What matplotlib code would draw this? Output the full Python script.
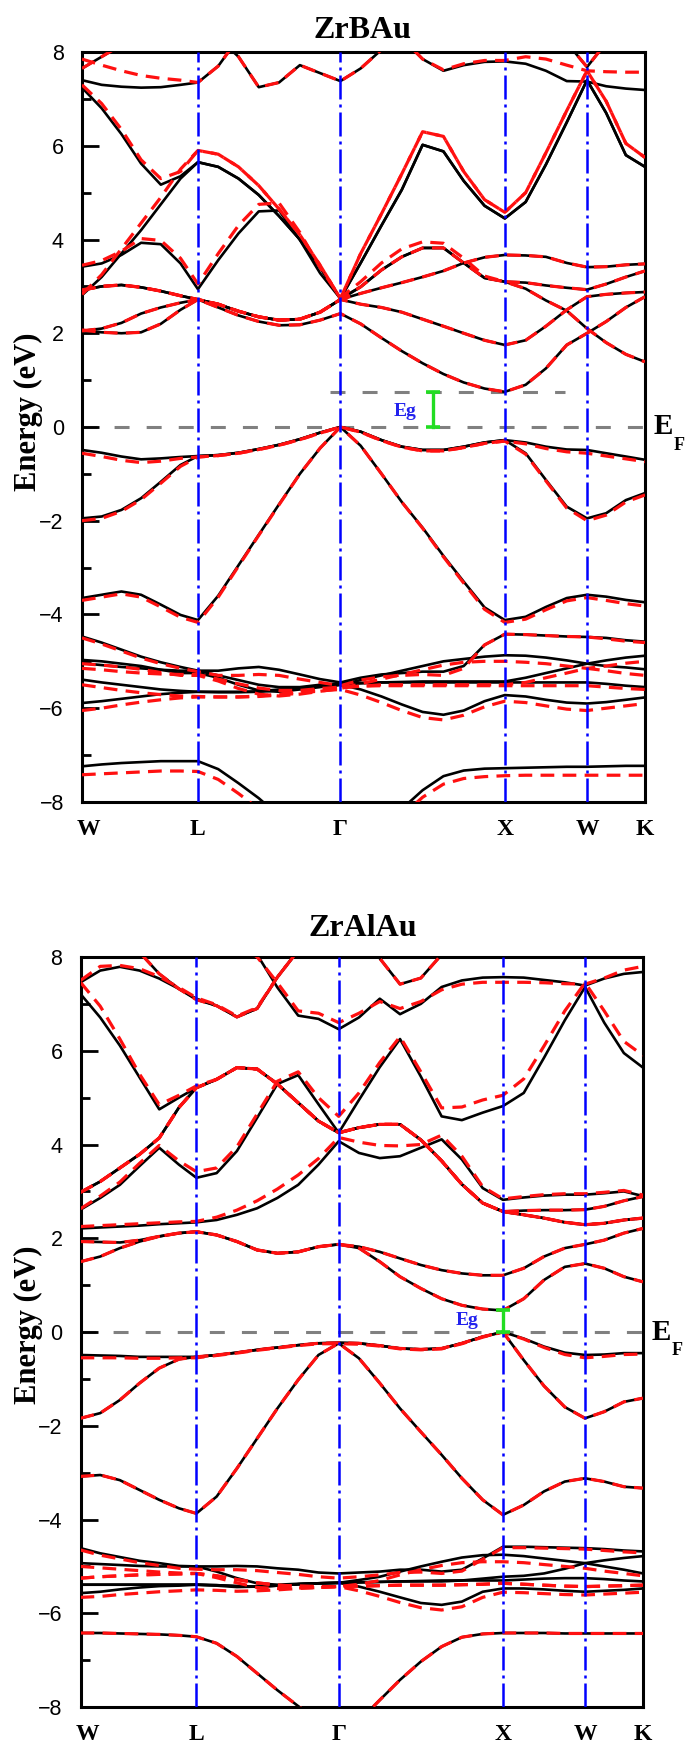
import numpy as np
import matplotlib.pyplot as plt
from matplotlib import transforms

# high symmetry path W-L-G-X-W-K, as fraction of the total path length
K_TICKS = [0.0, 0.206, 0.459, 0.751, 0.897, 1.0]
K_LABELS = ['W', 'L', 'Γ', 'X', 'W', 'K']

# k-points the bands are sampled on (7 + 7 + 8 + 4 + 3 points per segment)
K_GRID = [0.0, 0.035, 0.07, 0.105, 0.14, 0.175, 0.206,
          0.242, 0.278, 0.314, 0.350, 0.387, 0.423, 0.459,
          0.495, 0.532, 0.568, 0.605, 0.642, 0.678, 0.715, 0.751,
          0.788, 0.824, 0.861, 0.897,
          0.931, 0.966, 1.0]

# ---------------- ZrBAu bands (eV), solid = black, _R = red dashed ----------------
B_V1 = [-0.49, -0.55, -0.63, -0.69, -0.67, -0.64, -0.62,
        -0.60, -0.55, -0.47, -0.38, -0.26, -0.12, 0.00,
        -0.10, -0.28, -0.42, -0.49, -0.49, -0.42, -0.33, -0.28,
        -0.33, -0.42, -0.48, -0.49,
        -0.56, -0.63, -0.70]
B_V1_R = [-0.56, -0.63, -0.71, -0.76, -0.73, -0.67, -0.64,
          -0.61, -0.56, -0.48, -0.39, -0.27, -0.13, 0.00,
          -0.11, -0.29, -0.43, -0.51, -0.51, -0.44, -0.35, -0.30,
          -0.36, -0.46, -0.53, -0.56,
          -0.62, -0.68, -0.74]
B_V2 = [-1.95, -1.91, -1.77, -1.52, -1.17, -0.81, -0.62,
        -0.60, -0.55, -0.47, -0.38, -0.26, -0.12, 0.00,
        -0.10, -0.28, -0.42, -0.49, -0.49, -0.42, -0.33, -0.28,
        -0.56, -1.13, -1.70, -1.95,
        -1.84, -1.56, -1.41]
B_V2_R = [-2.00, -1.95, -1.80, -1.55, -1.20, -0.84, -0.64,
          -0.61, -0.56, -0.48, -0.39, -0.27, -0.13, 0.00,
          -0.11, -0.29, -0.43, -0.51, -0.51, -0.44, -0.35, -0.30,
          -0.58, -1.15, -1.73, -2.00,
          -1.88, -1.60, -1.45]
B_V3 = [-3.65, -3.58, -3.51, -3.58, -3.79, -4.01, -4.12,
        -3.60, -2.95, -2.30, -1.65, -1.00, -0.45, 0.00,
        -0.40, -1.00, -1.60, -2.15, -2.75, -3.30, -3.85, -4.12,
        -4.05, -3.84, -3.65, -3.58,
        -3.62, -3.69, -3.74]
B_V3_R = [-3.70, -3.63, -3.56, -3.63, -3.84, -4.06, -4.17,
          -3.63, -2.97, -2.31, -1.66, -1.00, -0.45, 0.00,
          -0.40, -1.00, -1.60, -2.16, -2.77, -3.33, -3.89, -4.17,
          -4.10, -3.90, -3.71, -3.64,
          -3.70, -3.77, -3.82]
B_S1 = [-4.47, -4.60, -4.75, -4.90, -5.02, -5.12, -5.20,
        -5.20, -5.15, -5.12, -5.18, -5.28, -5.38, -5.45,
        -5.35, -5.28, -5.25, -5.22, -5.22, -5.10, -4.65, -4.42,
        -4.43, -4.45, -4.47, -4.48,
        -4.50, -4.55, -4.58]
B_S1_R = [-4.50, -4.63, -4.78, -4.93, -5.05, -5.15, -5.22,
          -5.30, -5.30, -5.28, -5.30, -5.38, -5.45, -5.52,
          -5.40, -5.33, -5.30, -5.28, -5.30, -5.15, -4.65, -4.42,
          -4.43, -4.45, -4.47, -4.48,
          -4.52, -4.57, -4.60]
B_S2 = [-4.97, -5.00, -5.05, -5.10, -5.18, -5.25, -5.25,
        -5.35, -5.50, -5.62, -5.65, -5.60, -5.55, -5.50,
        -5.40, -5.30, -5.20, -5.10, -5.00, -4.95, -4.90, -4.87,
        -4.88, -4.92, -4.98, -5.05,
        -5.10, -5.13, -5.17]
B_S2_R = [-5.05, -5.08, -5.12, -5.17, -5.24, -5.30, -5.30,
          -5.42, -5.58, -5.70, -5.74, -5.70, -5.64, -5.58,
          -5.48, -5.38, -5.28, -5.18, -5.08, -5.02, -5.00, -5.00,
          -5.02, -5.05, -5.10, -5.15,
          -5.10, -5.04, -5.00]
B_S3 = [-5.39, -5.45, -5.50, -5.55, -5.60, -5.63, -5.65,
        -5.66, -5.66, -5.65, -5.62, -5.58, -5.53, -5.50,
        -5.47, -5.45, -5.44, -5.43, -5.43, -5.43, -5.43, -5.43,
        -5.35, -5.25, -5.15, -5.05,
        -4.98, -4.92, -4.88]
B_S3_R = [-5.50, -5.56, -5.62, -5.67, -5.71, -5.74, -5.75,
          -5.76, -5.76, -5.74, -5.70, -5.65, -5.60, -5.57,
          -5.53, -5.50, -5.50, -5.50, -5.50, -5.50, -5.50, -5.50,
          -5.45, -5.35, -5.25, -5.15,
          -5.20, -5.26, -5.30]
B_S4 = [-5.89, -5.85, -5.80, -5.75, -5.70, -5.67, -5.65,
        -5.65, -5.65, -5.64, -5.60, -5.57, -5.53, -5.50,
        -5.60, -5.75, -5.92, -6.08, -6.14, -6.05, -5.85, -5.72,
        -5.75, -5.82, -5.88, -5.90,
        -5.87, -5.82, -5.77]
B_S4_R = [-6.05, -6.00, -5.93, -5.87, -5.82, -5.78, -5.76,
          -5.76, -5.76, -5.75, -5.72, -5.68, -5.63, -5.60,
          -5.72, -5.88, -6.05, -6.20, -6.25, -6.15, -5.97, -5.85,
          -5.88, -5.95, -6.02, -6.05,
          -6.00, -5.95, -5.90]
B_S5 = [-5.04, -5.08, -5.12, -5.15, -5.18, -5.20, -5.20,
        -5.30, -5.40, -5.50, -5.55, -5.55, -5.50, -5.47,
        -5.46, -5.45, -5.45, -5.45, -5.45, -5.45, -5.45, -5.45,
        -5.45, -5.45, -5.45, -5.45,
        -5.48, -5.52, -5.55]
B_S5_R = [-5.15, -5.18, -5.22, -5.25, -5.27, -5.28, -5.28,
          -5.38, -5.48, -5.57, -5.62, -5.62, -5.58, -5.55,
          -5.53, -5.52, -5.52, -5.52, -5.52, -5.52, -5.52, -5.52,
          -5.52, -5.52, -5.52, -5.52,
          -5.55, -5.58, -5.60]
B_D = [-7.24, -7.20, -7.17, -7.15, -7.13, -7.13, -7.13,
       -7.30, -7.60, -7.92, -8.30, -8.60, -8.80, -9.00,
       -8.80, -8.50, -8.15, -7.75, -7.45, -7.33, -7.29, -7.28,
       -7.27, -7.26, -7.25, -7.25,
       -7.24, -7.23, -7.23]
B_D_R = [-7.42, -7.40, -7.38, -7.36, -7.34, -7.34, -7.35,
         -7.52, -7.82, -8.15, -8.50, -8.80, -9.00, -9.10,
         -9.00, -8.75, -8.30, -7.90, -7.62, -7.50, -7.46, -7.44,
         -7.43, -7.43, -7.43, -7.43,
         -7.43, -7.43, -7.43]
B_C1 = [2.07, 2.02, 2.00, 2.02, 2.20, 2.50, 2.72,
        2.55, 2.38, 2.25, 2.17, 2.18, 2.28, 2.42,
        2.20, 1.90, 1.62, 1.36, 1.13, 0.95, 0.82, 0.75,
        0.90, 1.25, 1.75, 2.00,
        2.25, 2.55, 2.78]
B_C2 = [2.05, 2.10, 2.22, 2.42, 2.55, 2.65, 2.72,
        2.62, 2.47, 2.35, 2.28, 2.30, 2.45, 2.72,
        2.62, 2.55, 2.45, 2.30, 2.15, 2.00, 1.85, 1.75,
        1.85, 2.15, 2.50, 2.78,
        2.83, 2.86, 2.88]
B_C3 = [2.92, 3.00, 3.03, 2.98, 2.90, 2.80, 2.72,
        2.62, 2.47, 2.35, 2.28, 2.30, 2.45, 2.72,
        2.85, 2.97, 3.08, 3.20, 3.33, 3.50, 3.62, 3.67,
        3.66, 3.63, 3.50, 3.41,
        3.42, 3.46, 3.48]
B_C4 = [3.42, 3.49, 3.67, 3.93, 3.90, 3.49, 2.94,
        3.56, 4.13, 4.60, 4.62, 3.99, 3.28, 2.74,
        2.99, 3.35, 3.63, 3.82, 3.82, 3.50, 3.18, 3.10,
        3.08, 3.02, 2.97, 2.93,
        3.05, 3.20, 3.33]
B_C4_R = [3.45, 3.55, 3.75, 4.02, 3.98, 3.60, 3.05,
          3.70, 4.30, 4.75, 4.78, 4.15, 3.40, 2.76,
          3.10, 3.50, 3.80, 3.95, 3.92, 3.60, 3.22, 3.10,
          3.08, 3.02, 2.97, 2.93,
          3.05, 3.20, 3.33]
B_C5 = [2.92, 3.00, 3.03, 2.98, 2.90, 2.80, 2.72,
        2.62, 2.47, 2.35, 2.28, 2.30, 2.45, 2.72,
        2.99, 3.35, 3.63, 3.82, 3.82, 3.50, 3.18, 3.10,
        2.95, 2.70, 2.48, 2.10,
        1.80, 1.55, 1.39]
B_C6 = [2.81, 3.20, 3.70, 4.20, 4.75, 5.30, 5.65,
        5.55, 5.30, 4.95, 4.50, 4.00, 3.40, 2.74,
        3.50, 4.30, 5.06, 6.02, 5.88, 5.25, 4.72, 4.45,
        4.80, 5.60, 6.50, 7.40,
        6.70, 5.80, 5.55]
B_C6_R = [2.83, 3.25, 3.80, 4.35, 4.90, 5.50, 5.90,
          5.82, 5.55, 5.15, 4.65, 4.10, 3.45, 2.74,
          3.70, 4.55, 5.40, 6.30, 6.20, 5.45, 4.85, 4.58,
          5.00, 5.85, 6.75, 7.60,
          6.95, 6.05, 5.75]
B_C7 = [7.24, 6.80, 6.25, 5.62, 5.17, 5.35, 5.65,
        5.55, 5.30, 4.95, 4.50, 4.00, 3.40, 2.74,
        3.50, 4.30, 5.06, 6.02, 5.88, 5.25, 4.72, 4.45,
        4.80, 5.60, 6.50, 7.40,
        6.70, 5.80, 5.55]
B_C7_R = [7.30, 6.90, 6.35, 5.70, 5.30, 5.45, 5.90,
          5.82, 5.55, 5.15, 4.65, 4.10, 3.45, 2.74,
          3.70, 4.55, 5.40, 6.30, 6.20, 5.45, 4.85, 4.58,
          5.00, 5.85, 6.75, 7.60,
          6.95, 6.05, 5.75]
B_C8 = [7.40, 7.30, 7.26, 7.24, 7.25, 7.30, 7.35,
        7.70, 8.30, 8.70, 8.80, 8.80, 8.80, 8.80,
        8.80, 8.60, 8.30, 7.85, 7.60, 7.72, 7.79, 7.80,
        7.75, 7.60, 7.38, 7.37,
        7.27, 7.22, 7.19]
B_C8_R = [7.85, 7.72, 7.60, 7.50, 7.44, 7.40, 7.35,
          7.70, 8.30, 8.70, 8.80, 8.80, 8.80, 8.80,
          8.80, 8.60, 8.30, 7.85, 7.62, 7.75, 7.82, 7.82,
          7.90, 7.85, 7.72, 7.60,
          7.58, 7.57, 7.57]
B_C9 = [7.65, 7.90, 8.15, 8.40, 8.60, 8.50, 8.40,
        8.30, 7.90, 7.25, 7.35, 7.72, 7.55, 7.38,
        7.65, 8.05, 8.40, 8.60, 8.70, 8.70, 8.70, 8.70,
        8.60, 8.45, 8.20, 7.68,
        8.20, 8.40, 8.60]

# ---------------- ZrAlAu bands (eV) ----------------
A_V1 = [-0.49, -0.50, -0.51, -0.53, -0.53, -0.53, -0.53,
        -0.49, -0.44, -0.38, -0.33, -0.28, -0.24, -0.23,
        -0.24, -0.29, -0.35, -0.37, -0.35, -0.24, -0.10, 0.00,
        -0.14, -0.31, -0.44, -0.49,
        -0.48, -0.45, -0.45]
A_V1_R = [-0.55, -0.55, -0.55, -0.56, -0.56, -0.55, -0.55,
          -0.50, -0.45, -0.39, -0.34, -0.29, -0.25, -0.25,
          -0.26, -0.30, -0.36, -0.38, -0.36, -0.25, -0.11, 0.00,
          -0.15, -0.33, -0.48, -0.55,
          -0.52, -0.48, -0.47]
A_V2 = [-1.84, -1.73, -1.45, -1.09, -0.77, -0.58, -0.53,
        -0.49, -0.44, -0.38, -0.33, -0.28, -0.24, -0.23,
        -0.24, -0.29, -0.35, -0.37, -0.35, -0.24, -0.10, 0.00,
        -0.60, -1.15, -1.60, -1.84,
        -1.70, -1.49, -1.41]
A_V3 = [-3.08, -3.05, -3.16, -3.37, -3.58, -3.76, -3.87,
        -3.51, -2.91, -2.27, -1.63, -1.02, -0.49, -0.24,
        -0.56, -1.09, -1.63, -2.13, -2.62, -3.12, -3.58, -3.90,
        -3.69, -3.40, -3.19, -3.12,
        -3.19, -3.30, -3.33]
A_S1 = [-4.61, -4.72, -4.80, -4.88, -4.93, -4.99, -5.00,
        -5.00, -4.99, -5.00, -5.04, -5.07, -5.13, -5.15,
        -5.13, -5.11, -5.07, -5.07, -5.11, -5.07, -4.83, -4.58,
        -4.58, -4.59, -4.60, -4.61,
        -4.63, -4.66, -4.68]
A_S1_R = [-4.65, -4.76, -4.84, -4.92, -4.98, -5.04, -5.06,
          -5.07, -5.07, -5.09, -5.13, -5.17, -5.22, -5.25,
          -5.22, -5.18, -5.13, -5.12, -5.15, -5.10, -4.85, -4.60,
          -4.60, -4.61, -4.62, -4.63,
          -4.66, -4.69, -4.71]
A_S2 = [-4.93, -4.95, -4.97, -4.99, -5.00, -5.00, -5.00,
        -5.11, -5.25, -5.36, -5.39, -5.37, -5.36, -5.35,
        -5.29, -5.22, -5.11, -5.00, -4.90, -4.81, -4.76, -4.75,
        -4.78, -4.83, -4.88, -4.93,
        -5.00, -5.07, -5.15]
A_S2_R = [-5.00, -5.03, -5.06, -5.09, -5.12, -5.14, -5.15,
          -5.24, -5.35, -5.45, -5.47, -5.46, -5.45, -5.43,
          -5.38, -5.30, -5.18, -5.07, -4.98, -4.92, -4.90, -4.90,
          -4.92, -4.96, -5.00, -5.04,
          -5.10, -5.15, -5.20]
A_S3 = [-5.39, -5.39, -5.39, -5.39, -5.39, -5.39, -5.39,
        -5.40, -5.42, -5.43, -5.41, -5.38, -5.36, -5.35,
        -5.34, -5.33, -5.32, -5.32, -5.32, -5.30, -5.26, -5.22,
        -5.20, -5.15, -5.05, -4.93,
        -4.87, -4.82, -4.78]
A_S3_R = [-5.25, -5.22, -5.20, -5.18, -5.17, -5.16, -5.15,
          -5.20, -5.28, -5.35, -5.40, -5.42, -5.43, -5.43,
          -5.42, -5.41, -5.40, -5.40, -5.40, -5.39, -5.38, -5.36,
          -5.38, -5.40, -5.42, -5.43,
          -5.42, -5.41, -5.40]
A_S4 = [-5.57, -5.54, -5.49, -5.45, -5.42, -5.41, -5.39,
        -5.41, -5.44, -5.43, -5.41, -5.38, -5.36, -5.35,
        -5.43, -5.54, -5.66, -5.78, -5.82, -5.75, -5.54, -5.47,
        -5.47, -5.49, -5.52, -5.54,
        -5.52, -5.50, -5.47]
A_S4_R = [-5.66, -5.64, -5.60, -5.57, -5.54, -5.52, -5.50,
          -5.51, -5.53, -5.52, -5.50, -5.47, -5.45, -5.43,
          -5.52, -5.64, -5.77, -5.88, -5.93, -5.86, -5.66, -5.55,
          -5.56, -5.58, -5.60, -5.61,
          -5.59, -5.57, -5.55]
A_S5 = [-5.39, -5.39, -5.39, -5.39, -5.39, -5.39, -5.39,
        -5.40, -5.42, -5.43, -5.41, -5.38, -5.36, -5.35,
        -5.34, -5.33, -5.32, -5.31, -5.30, -5.30, -5.30, -5.30,
        -5.28, -5.26, -5.25, -5.25,
        -5.27, -5.30, -5.32]
A_D = [-6.42, -6.42, -6.43, -6.44, -6.45, -6.47, -6.50,
       -6.64, -6.92, -7.28, -7.64, -7.98, -8.30, -8.50,
       -8.30, -7.85, -7.42, -7.03, -6.71, -6.51, -6.44, -6.42,
       -6.42, -6.42, -6.43, -6.43,
       -6.43, -6.43, -6.43]
A_C1 = [1.50, 1.61, 1.79, 1.93, 2.04, 2.11, 2.14,
        2.07, 1.93, 1.75, 1.68, 1.71, 1.82, 1.87,
        1.79, 1.50, 1.18, 0.93, 0.71, 0.57, 0.49, 0.46,
        0.71, 1.11, 1.39, 1.46,
        1.36, 1.18, 1.07]
A_C2 = [1.93, 1.92, 1.91, 1.96, 2.04, 2.11, 2.14,
        2.07, 1.93, 1.75, 1.68, 1.71, 1.82, 1.87,
        1.82, 1.71, 1.57, 1.43, 1.32, 1.25, 1.21, 1.21,
        1.36, 1.61, 1.79, 1.87,
        1.96, 2.11, 2.21]
A_C3 = [2.21, 2.23, 2.25, 2.27, 2.30, 2.32, 2.34,
        2.39, 2.50, 2.64, 2.86, 3.14, 3.57, 4.07,
        3.82, 3.71, 3.75, 3.93, 4.11, 3.68, 3.07, 2.82,
        2.87, 2.91, 2.93, 2.93,
        2.96, 3.00, 2.90]
A_C3_R = [2.25, 2.27, 2.29, 2.31, 2.33, 2.35, 2.36,
          2.45, 2.60, 2.80, 3.05, 3.35, 3.70, 4.15,
          4.05, 3.98, 3.97, 4.00, 4.20, 3.75, 3.10, 2.84,
          2.89, 2.93, 2.95, 2.95,
          2.98, 3.02, 2.92]
A_C4 = [2.61, 2.86, 3.14, 3.54, 3.93, 3.57, 3.29,
        3.39, 3.86, 4.57, 5.29, 5.48, 4.86, 4.25,
        4.95, 5.65, 6.25, 5.45, 4.60, 4.52, 4.68, 4.82,
        5.10, 5.85, 6.65, 7.36,
        6.60, 5.95, 5.64]
A_C4_R = [2.63, 2.90, 3.20, 3.60, 3.98, 3.65, 3.42,
          3.50, 3.95, 4.65, 5.35, 5.55, 5.00, 4.60,
          5.10, 5.75, 6.30, 5.55, 4.78, 4.80, 4.95, 5.05,
          5.40, 6.10, 6.85, 7.45,
          6.85, 6.20, 5.90]
A_C5 = [2.98, 3.21, 3.50, 3.79, 4.14, 4.79, 5.21,
        5.39, 5.64, 5.61, 5.29, 4.89, 4.50, 4.25,
        4.36, 4.43, 4.43, 4.10, 3.65, 3.15, 2.75, 2.57,
        2.50, 2.43, 2.34, 2.29,
        2.32, 2.39, 2.43]
A_C6 = [2.98, 3.21, 3.50, 3.79, 4.14, 4.79, 5.21,
        5.39, 5.64, 5.61, 5.29, 4.89, 4.50, 4.25,
        4.36, 4.43, 4.43, 4.10, 3.65, 3.15, 2.75, 2.57,
        2.59, 2.60, 2.60, 2.61,
        2.68, 2.80, 2.89]
A_C7 = [7.21, 6.71, 6.11, 5.43, 4.75, 5.00, 5.21,
        5.39, 5.64, 5.61, 5.29, 4.89, 4.50, 4.25,
        4.36, 4.43, 4.43, 4.10, 3.65, 3.15, 2.75, 2.57,
        2.50, 2.43, 2.34, 2.29,
        2.32, 2.39, 2.43]
A_C7_R = [7.46, 6.95, 6.25, 5.50, 4.85, 5.05, 5.25,
          5.39, 5.64, 5.61, 5.29, 4.89, 4.50, 4.25,
          4.36, 4.43, 4.43, 4.10, 3.65, 3.15, 2.75, 2.57,
          2.50, 2.43, 2.34, 2.29,
          2.32, 2.39, 2.43]
A_C8 = [7.46, 7.71, 7.79, 7.71, 7.54, 7.32, 7.11,
        6.96, 6.72, 6.90, 7.57, 8.14, 8.60, 8.80,
        8.50, 7.97, 7.42, 7.55, 8.05, 8.50, 8.70, 8.80,
        8.80, 8.80, 8.80, 8.80,
        8.80, 8.80, 8.80]
A_C8_R = [7.50, 7.80, 7.82, 7.75, 7.58, 7.35, 7.13,
          6.98, 6.74, 6.92, 7.57, 8.14, 8.60, 8.80,
          8.50, 7.97, 7.42, 7.55, 8.05, 8.50, 8.70, 8.80,
          8.80, 8.80, 8.80, 8.80,
          8.80, 8.80, 8.80]
A_C9 = [8.50, 8.40, 8.30, 8.10, 7.64, 7.32, 7.09,
        6.96, 6.72, 6.90, 7.57, 8.14, 8.60, 8.80,
        8.80, 8.80, 8.80, 8.80, 8.80, 8.80, 8.80, 8.80,
        8.80, 8.80, 8.80, 8.80,
        8.80, 8.80, 8.80]
A_C10 = [8.80, 8.80, 8.80, 8.80, 8.75, 8.70, 8.60,
         8.50, 8.30, 8.05, 7.35, 6.75, 6.68, 6.46,
         6.71, 7.11, 6.78, 7.00, 7.36, 7.50, 7.56, 7.57,
         7.56, 7.51, 7.46, 7.39,
         7.54, 7.64, 7.68]
A_C10_R = [8.80, 8.80, 8.80, 8.80, 8.75, 8.70, 8.60,
           8.50, 8.30, 8.00, 7.45, 6.85, 6.80, 6.60,
           6.80, 7.05, 6.90, 7.05, 7.30, 7.42, 7.46, 7.46,
           7.46, 7.45, 7.43, 7.42,
           7.55, 7.72, 7.80]

ZRBAU_SOLID = [B_V1, B_V2, B_V3, B_S1, B_S2, B_S3, B_S4, B_S5, B_D,
               B_C1, B_C2, B_C3, B_C4, B_C5, B_C6, B_C7, B_C8, B_C9]
ZRBAU_DASHED = [B_V1_R, B_V2_R, B_V3_R, B_S1_R, B_S2_R, B_S3_R, B_S4_R, B_S5_R, B_D_R,
                B_C1, B_C2, B_C3, B_C4_R, B_C5, B_C6_R, B_C7_R, B_C8_R, B_C9]
ZRALAU_SOLID = [A_V1, A_V2, A_V3, A_S1, A_S2, A_S3, A_S4, A_S5, A_D,
                A_C1, A_C2, A_C3, A_C4, A_C5, A_C6, A_C7, A_C8, A_C9, A_C10]
ZRALAU_DASHED = [A_V1_R, A_V2, A_V3, A_S1_R, A_S2_R, A_S3_R, A_S4_R, A_S3_R, A_D,
                 A_C1, A_C2, A_C3_R, A_C4_R, A_C5, A_C6, A_C7_R, A_C8_R, A_C9, A_C10_R]

SERIF = 'Liberation Serif'
plt.rcParams['font.family'] = 'Liberation Sans'


def draw_panel(ax, solid, dashed, title, title_y, ylabel_y, gap_x, eg_pos, cbm_span=None):
    k = np.array(K_GRID)
    vbm = max(max(b) for b in solid if max(b) <= 0.0)
    cbm = min(min(b) for b in solid if min(b) > 0.0)

    # fermi level and (optionally) conduction band minimum
    ax.axhline(0.0, color='#808080', lw=2.2, ls=(0, (4.9, 5.6)), zorder=1)
    if cbm_span is not None:
        ax.plot(cbm_span, [cbm, cbm], color='#808080', lw=2.2, ls=(0, (4.9, 5.6)), zorder=1)

    for band in solid:
        ax.plot(k, band, color='black', lw=1.9, zorder=2)
    for band in dashed:
        ax.plot(k, band, color='#ff1010', lw=2.3, ls=(0, (4.3, 2.6)), zorder=3)

    for kt in K_TICKS[1:-1]:
        ax.axvline(kt, color='#0000ff', lw=1.8, ls=(0, (9.6, 2.0, 1.2, 2.0)), zorder=4)

    # band gap marker
    ax.plot([gap_x, gap_x], [vbm, cbm], color='#22dd22', lw=2.4, zorder=5)
    ax.plot([gap_x, gap_x], [vbm, cbm], ls='none', marker='_', ms=10, mew=2.6,
            color='#22dd22', zorder=5)
    ax.text(eg_pos[0], eg_pos[1], 'Eg', color='#2222ee', fontfamily=SERIF,
            fontweight='bold', fontsize=14, ha='center', va='center', zorder=6)

    ax.set_xlim(0, 1)
    ax.set_ylim(-8, 8)
    ax.set_yticks(range(-8, 9, 2))
    ax.set_yticks(range(-7, 8, 2), minor=True)
    ax.tick_params(axis='y', which='major', direction='in', length=12.5, width=2,
                   labelsize=15.5, pad=13, right=False)
    ax.tick_params(axis='y', which='minor', direction='in', length=6.5, width=2, right=False)
    ax.set_xticks(K_TICKS)
    ax.set_xticklabels(K_LABELS)
    ax.tick_params(axis='x', length=0, pad=12)
    for lbl in ax.get_xticklabels():
        lbl.set_fontfamily(SERIF)
        lbl.set_fontweight('bold')
        lbl.set_fontsize(17)
    # first W label sits a little right of the frame edge
    first = ax.get_xticklabels()[0]
    first.set_transform(first.get_transform() +
                        transforms.ScaledTranslation(5 / 72, 0, ax.figure.dpi_scale_trans))
    for sp in ax.spines.values():
        sp.set_linewidth(2.2)

    # E_F label on the right of the frame
    tr = transforms.blended_transform_factory(ax.transAxes, ax.transData)
    ax.annotate('E', xy=(1.0, 0.0), xycoords=tr, xytext=(13, 0), textcoords='offset points',
                fontfamily=SERIF, fontweight='bold', fontsize=21, ha='center', va='center',
                annotation_clip=False)
    ax.annotate('F', xy=(1.0, 0.0), xycoords=tr, xytext=(24.5, -13.5), textcoords='offset points',
                fontfamily=SERIF, fontweight='bold', fontsize=13, ha='center', va='center',
                annotation_clip=False)

    fig = ax.figure
    fig.text(0.526, 1 - title_y / 1746, title, fontfamily=SERIF, fontweight='bold',
             fontsize=23, ha='center', va='center')
    fig.text(28 / 690, 1 - ylabel_y / 1746, 'Energy (eV)', fontfamily=SERIF, fontweight='bold',
             fontsize=22, rotation=90, ha='center', va='center')


fig = plt.figure(figsize=(6.9, 17.46), dpi=100)
ax_top = fig.add_axes([0.1188, 0.5407, 0.8160, 0.4295])
ax_bot = fig.add_axes([0.1167, 0.0223, 0.8152, 0.4296])

draw_panel(ax_top, ZRBAU_SOLID, ZRBAU_DASHED, 'ZrBAu', 31, 412,
           gap_x=0.623, eg_pos=(0.574, 0.32), cbm_span=[0.44, 0.858])
draw_panel(ax_bot, ZRALAU_SOLID, ZRALAU_DASHED, 'ZrAlAu', 929, 1325,
           gap_x=0.751, eg_pos=(0.688, 0.24))

fig.savefig('out.png', dpi=100)
